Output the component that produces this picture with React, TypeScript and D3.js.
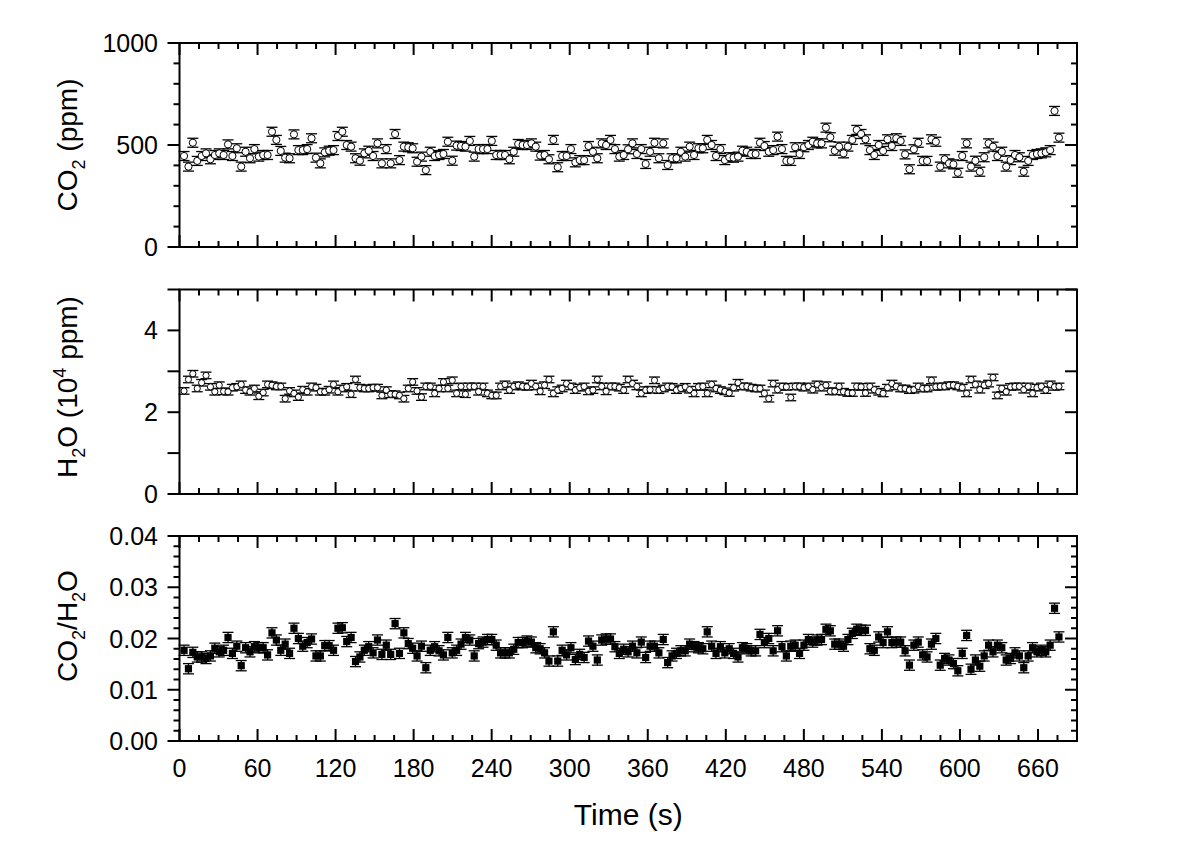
import React from 'react';
import * as d3 from 'd3';

// ---- data ----
const firstTime = 3.5; // s, first sample
const sampleInterval = 3.38; // s between samples

const co2: number[] = [
  446, 394, 511, 422, 446, 459, 430, 451, 459, 451, 503, 446, 484, 394, 467, 435, 480, 443, 451, 451,
  565, 525, 471, 438, 435, 552, 475, 475, 480, 533, 438, 410, 464, 472, 475, 544, 565, 500, 492, 435,
  423, 459, 472, 446, 508, 410, 480, 410, 554, 426, 492, 489, 484, 418, 443, 377, 467, 446, 451, 456,
  516, 423, 497, 495, 492, 520, 443, 480,
  480, 480, 520, 451, 451, 451, 430, 467, 505, 500, 500, 508, 492, 448, 451, 430, 525, 391, 446, 446,
  480, 415, 426, 426, 495, 467, 435, 508, 500, 525, 480, 443, 451, 479, 508, 456, 480, 407, 467, 511,
  435, 508, 402, 435, 435, 467, 443, 492, 451, 484, 484, 525, 500, 446, 480, 426, 440, 438, 443, 472,
  467, 456, 456, 511, 495, 467, 475, 541,
  480, 422, 422, 489, 456, 489, 500, 516, 508, 508, 585, 538, 472, 492, 459, 492, 525, 574, 554, 528,
  475, 451, 500, 471, 528, 495, 533, 520, 454, 381, 479, 511, 422, 422, 528, 516, 394, 430, 410, 405,
  364, 446, 508, 394, 423, 369, 440, 508, 492, 446, 467, 394, 426, 451, 440, 369, 422, 451, 456, 459,
  464, 475, 667, 536,
];

const h2o: number[] = [
  2.52, 2.8, 2.94, 2.58, 2.72, 2.9, 2.62, 2.5, 2.66, 2.51, 2.5, 2.6, 2.62, 2.68, 2.54, 2.5, 2.58, 2.39, 2.48, 2.68,
  2.66, 2.63, 2.63, 2.33, 2.52, 2.46, 2.37, 2.55, 2.5, 2.63, 2.6, 2.5, 2.5, 2.55, 2.68, 2.5, 2.58, 2.62, 2.44, 2.8,
  2.6, 2.58, 2.58, 2.6, 2.6, 2.41, 2.54, 2.44, 2.44, 2.41, 2.33, 2.58, 2.74, 2.52, 2.37, 2.63, 2.63, 2.46, 2.58, 2.74,
  2.58, 2.78, 2.46, 2.63, 2.44, 2.63, 2.63, 2.5,
  2.63, 2.46, 2.41, 2.41, 2.63, 2.68, 2.54, 2.63, 2.66, 2.63, 2.62, 2.7, 2.63, 2.51, 2.66, 2.8, 2.46, 2.54, 2.58, 2.7,
  2.63, 2.54, 2.6, 2.63, 2.51, 2.54, 2.8, 2.63, 2.51, 2.63, 2.63, 2.6, 2.54, 2.8, 2.7, 2.63, 2.46, 2.54, 2.55, 2.78,
  2.54, 2.58, 2.63, 2.62, 2.54, 2.58, 2.62, 2.55, 2.46, 2.62, 2.63, 2.46, 2.68, 2.58, 2.54, 2.51, 2.47, 2.6, 2.72, 2.63,
  2.63, 2.6, 2.58, 2.58, 2.46, 2.33, 2.7, 2.55,
  2.63, 2.62, 2.36, 2.63, 2.63, 2.6, 2.63, 2.55, 2.68, 2.6, 2.66, 2.51, 2.51, 2.63, 2.5, 2.47, 2.47, 2.63, 2.62, 2.47,
  2.63, 2.55, 2.5, 2.46, 2.6, 2.7, 2.63, 2.58, 2.58, 2.54, 2.55, 2.63, 2.58, 2.58, 2.78, 2.62, 2.63, 2.63, 2.66, 2.66,
  2.63, 2.6, 2.46, 2.8, 2.68, 2.55, 2.66, 2.7, 2.85, 2.41, 2.58, 2.5, 2.62, 2.63, 2.63, 2.55, 2.63, 2.46, 2.6, 2.63,
  2.54, 2.68, 2.62, 2.63,
];

const ratio: number[] = [
  0.0177, 0.0141, 0.0173, 0.0164, 0.0164, 0.0161, 0.0166, 0.0181, 0.0174, 0.0177, 0.0202, 0.0171, 0.0185, 0.0147, 0.0182, 0.0174, 0.0184, 0.0182, 0.0182, 0.0168,
  0.0211, 0.0197, 0.0177, 0.0189, 0.0171, 0.022, 0.02, 0.0185, 0.0192, 0.0199, 0.0166, 0.0166, 0.0186, 0.0186, 0.0177, 0.022, 0.0221, 0.0194, 0.0202, 0.0155,
  0.0164, 0.0177, 0.0184, 0.0172, 0.0197, 0.0169, 0.0187, 0.0169, 0.0229, 0.0171, 0.0211, 0.019, 0.0181, 0.0166, 0.0185, 0.0143, 0.0177, 0.0184, 0.0176, 0.0168,
  0.0202, 0.0172, 0.0177, 0.0189, 0.0202, 0.0197, 0.0166, 0.019,
  0.0193, 0.0198, 0.0198, 0.0187, 0.0172, 0.0172, 0.0172, 0.0179, 0.0192, 0.0192, 0.0195, 0.0193, 0.0182, 0.018, 0.0172, 0.0156, 0.0213, 0.0156, 0.0177, 0.0168,
  0.0182, 0.0159, 0.0169, 0.0163, 0.0195, 0.0185, 0.0158, 0.0197, 0.0199, 0.0199, 0.0184, 0.0171, 0.0179, 0.0174, 0.0185, 0.0172, 0.0193, 0.0163, 0.0185, 0.0185,
  0.0172, 0.0198, 0.0153, 0.0166, 0.0171, 0.0176, 0.0176, 0.0189, 0.0184, 0.0182, 0.018, 0.0213, 0.0185, 0.0171, 0.0184, 0.0172, 0.018, 0.0171, 0.0164, 0.0182,
  0.018, 0.0176, 0.0176, 0.0208, 0.0192, 0.02, 0.0176, 0.0215,
  0.0184, 0.0166, 0.0185, 0.0187, 0.0171, 0.0187, 0.0198, 0.0193, 0.0197, 0.0198, 0.0218, 0.0215, 0.0189, 0.0189, 0.0185, 0.0198, 0.021, 0.0218, 0.0216, 0.0216,
  0.018, 0.0177, 0.0203, 0.0192, 0.0213, 0.0192, 0.0193, 0.0193, 0.0176, 0.0148, 0.0187, 0.0193, 0.0168, 0.0164, 0.0189, 0.02, 0.0148, 0.0161, 0.0158, 0.0151,
  0.0137, 0.0171, 0.0206, 0.014, 0.0158, 0.0146, 0.0166, 0.0187, 0.0174, 0.0187, 0.0182, 0.0158, 0.0161, 0.0172, 0.0166, 0.0143, 0.0166, 0.0182, 0.0174, 0.0177,
  0.0174, 0.0187, 0.0259, 0.0203,
];

const co2Err = 22;
const h2oErr = 0.08;
const ratioErr = 0.001;

const timeDomain = [0, 690];
const timeMajorTicks = [0, 60, 120, 180, 240, 300, 360, 420, 480, 540, 600, 660];
const timeMinorStep = 15;

const co2Domain = [0, 1000];
const co2MajorTicks = [0, 500, 1000];
const co2MinorStep = 100;
const h2oDomain = [0, 5];
const h2oMajorTicks = [0, 1, 2, 3, 4, 5];
const h2oLabelTicks = [0, 2, 4];
const h2oMinorStep = 1;
const ratioDomain = [0, 0.04];
const ratioMajorTicks = [0, 0.01, 0.02, 0.03, 0.04];
const ratioMinorStep = 0.002;

const xTitle = 'Time (s)';

// ---- layout ----
const W = 1200;
const H = 842;
const plotLeft = 179.5;
const plotRight = 1077;
const FONT = "Arial, 'Liberation Sans', Helvetica, sans-serif";
const MAJ = 12;
const MIN = 6;

const times = co2.map((_, i) => firstTime + i * sampleInterval);

const x = d3.scaleLinear().domain(timeDomain).range([plotLeft, plotRight]);

type PanelCfg = {
  top: number;
  bottom: number;
  domain: number[];
  major: number[];
  labels: number[];
  minorStep: number;
  fmt: (v: number) => string;
  values: number[];
  err: number;
  marker: 'circle' | 'smallcircle' | 'square';
  titleY: number;
  title: React.ReactNode;
};

const panels: PanelCfg[] = [
  {
    top: 43, bottom: 247, domain: co2Domain, major: co2MajorTicks, labels: co2MajorTicks,
    minorStep: co2MinorStep, fmt: d3.format('d'), values: co2, err: co2Err, marker: 'circle', titleY: 145,
    title: (
      <>
        <tspan>CO</tspan>
        <tspan fontSize={18} dy={8}>2</tspan>
        <tspan dy={-8}> (ppm)</tspan>
      </>
    ),
  },
  {
    top: 289.5, bottom: 494, domain: h2oDomain, major: h2oMajorTicks, labels: h2oLabelTicks,
    minorStep: h2oMinorStep, fmt: d3.format('d'), values: h2o, err: h2oErr, marker: 'smallcircle', titleY: 387,
    title: (
      <>
        <tspan>H</tspan>
        <tspan fontSize={18} dy={8}>2</tspan>
        <tspan dy={-8}>O (10</tspan>
        <tspan fontSize={18} dy={-11}>4</tspan>
        <tspan dy={11}> ppm)</tspan>
      </>
    ),
  },
  {
    top: 536, bottom: 741, domain: ratioDomain, major: ratioMajorTicks, labels: ratioMajorTicks,
    minorStep: ratioMinorStep, fmt: d3.format('.2f'), values: ratio, err: ratioErr, marker: 'square', titleY: 626,
    title: (
      <>
        <tspan>CO</tspan>
        <tspan fontSize={18} dy={8}>2</tspan>
        <tspan dy={-8}>/H</tspan>
        <tspan fontSize={18} dy={8}>2</tspan>
        <tspan dy={-8}>O</tspan>
      </>
    ),
  },
];

function rangeStep(a: number, b: number, s: number): number[] {
  const n = Math.round((b - a) / s);
  const out: number[] = [];
  for (let i = 0; i <= n; i++) out.push(+(a + i * s).toFixed(6));
  return out;
}

function Panel({ cfg, showXLabels }: { cfg: PanelCfg; showXLabels: boolean }) {
  const y = d3.scaleLinear().domain(cfg.domain).range([cfg.bottom, cfg.top]);
  const xMinor = rangeStep(timeDomain[0], timeDomain[1], timeMinorStep).filter(
    (t) => !timeMajorTicks.includes(t) && x(t) < plotRight - 1
  );
  const yMinor = rangeStep(cfg.domain[0], cfg.domain[1], cfg.minorStep).filter(
    (v) => !cfg.major.some((m) => Math.abs(m - v) < 1e-9)
  );
  const capHalf = 5.5;
  return (
    <g>
      {/* data: error bars */}
      <g stroke="#000" strokeWidth={1.3}>
        {cfg.values.map((v, i) => {
          const cx = x(times[i]);
          const y1 = y(v + cfg.err);
          const y2 = y(v - cfg.err);
          return (
            <g key={i}>
              <line x1={cx} x2={cx} y1={y1} y2={y2} />
              <line x1={cx - capHalf} x2={cx + capHalf} y1={y1} y2={y1} />
              <line x1={cx - capHalf} x2={cx + capHalf} y1={y2} y2={y2} />
            </g>
          );
        })}
      </g>
      {/* data: markers */}
      <g>
        {cfg.values.map((v, i) => {
          const cx = x(times[i]);
          const cy = y(v);
          if (cfg.marker === 'square')
            return <rect key={i} x={cx - 3.6} y={cy - 3.6} width={7.2} height={7.2} fill="#000" />;
          const r = cfg.marker === 'circle' ? 3.6 : 3.1;
          return <circle key={i} cx={cx} cy={cy} r={r} fill="#fff" stroke="#000" strokeWidth={1} />;
        })}
      </g>
      {/* frame */}
      <rect
        x={plotLeft}
        y={cfg.top}
        width={plotRight - plotLeft}
        height={cfg.bottom - cfg.top}
        fill="none"
        stroke="#000"
        strokeWidth={2}
      />
      {/* x ticks top & bottom (inward) */}
      <g stroke="#000" strokeWidth={2}>
        {timeMajorTicks.map((t) => (
          <g key={'M' + t}>
            <line x1={x(t)} x2={x(t)} y1={cfg.top} y2={cfg.top + MAJ} />
            <line x1={x(t)} x2={x(t)} y1={cfg.bottom} y2={cfg.bottom - MAJ} />
          </g>
        ))}
        {xMinor.map((t) => (
          <g key={'m' + t}>
            <line x1={x(t)} x2={x(t)} y1={cfg.top} y2={cfg.top + MIN} />
            <line x1={x(t)} x2={x(t)} y1={cfg.bottom} y2={cfg.bottom - MIN} />
          </g>
        ))}
        {/* y ticks: left outward, right inward */}
        {cfg.major.map((v) => (
          <g key={'YM' + v}>
            <line x1={plotLeft} x2={plotLeft - MAJ} y1={y(v)} y2={y(v)} />
            <line x1={plotRight} x2={plotRight - MAJ} y1={y(v)} y2={y(v)} />
          </g>
        ))}
        {yMinor.map((v) => (
          <g key={'Ym' + v}>
            <line x1={plotLeft} x2={plotLeft - MIN} y1={y(v)} y2={y(v)} />
            <line x1={plotRight} x2={plotRight - MIN} y1={y(v)} y2={y(v)} />
          </g>
        ))}
      </g>
      {/* y tick labels */}
      <g fontFamily={FONT} fontSize={25} fill="#000" textAnchor="end">
        {cfg.labels.map((v) => (
          <text key={'L' + v} x={158} y={y(v)} dy="0.36em">
            {cfg.fmt(v)}
          </text>
        ))}
      </g>
      {/* y title */}
      <text
        transform={`translate(77, ${cfg.titleY}) rotate(-90)`}
        textAnchor="middle"
        fontFamily={FONT}
        fontSize={28}
        fill="#000"
      >
        {cfg.title}
      </text>
      {showXLabels && (
        <g fontFamily={FONT} fontSize={25} fill="#000" textAnchor="middle">
          {timeMajorTicks.map((t) => (
            <text key={'X' + t} x={x(t)} y={777}>
              {t}
            </text>
          ))}
        </g>
      )}
    </g>
  );
}

export default function App() {
  return (
    <svg
      width={W}
      height={H}
      viewBox={`0 0 ${W} ${H}`}
      style={{ position: 'absolute', left: 0, top: 0, background: '#fff' }}
    >
      <rect x={0} y={0} width={W} height={H} fill="#fff" />
      {panels.map((p, i) => (
        <Panel key={i} cfg={p} showXLabels={i === panels.length - 1} />
      ))}
      <text
        x={(plotLeft + plotRight) / 2}
        y={825}
        textAnchor="middle"
        fontFamily={FONT}
        fontSize={30}
        fill="#000"
      >
        {xTitle}
      </text>
    </svg>
  );
}
